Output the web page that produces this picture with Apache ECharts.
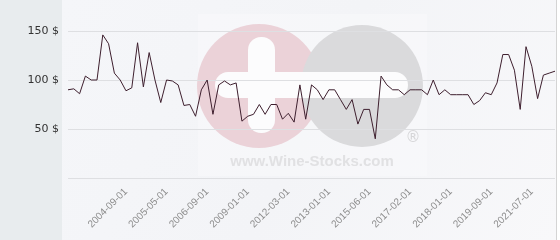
<!DOCTYPE html>
<html>
<head>
<meta charset="utf-8">
<script src="https://cdn.jsdelivr.net/npm/echarts@6/dist/echarts.min.js"></script>
<style>
html,body{margin:0;padding:0;background:#fff;}
#c{width:560px;height:240px;}
</style>
</head>
<body>
<div id="c"></div>
<script>
// Price per point (85 sales, in $)
const prices = [90,91,86,104,100,100,146,137,107,100,
  89,92,138,93,128,100,77,100,99,95,
  74,75,63,90,100,65,95,99,95,97,
  58,63,65,75,65,75,75,60,66,57,
  95,60,95,90,80,90,90,80,70,80,
  55,70,70,40,104,95,90,90,85,90,
  90,90,85,100,85,90,85,85,85,85,
  75,79,87,85,97,126,126,110,70,134,
  114,81,105,107,109];
// Dates shown on the axis and the sale index they belong to
const tickLabels = ['2004-09-01','2005-05-01','2006-09-01','2009-01-01','2012-03-01','2013-01-01','2015-06-01','2017-02-01','2018-01-01','2019-09-01','2021-07-01'];
const tickIndices = [10,17,24,31,38,45,52,59,66,73,80];
const yTicks = [0,50,100,150];

const labelAt = {};
tickIndices.forEach((ix, k) => { labelAt[ix] = tickLabels[k]; });
const categories = prices.map((_, i) => labelAt[i] !== undefined ? labelAt[i] : ('#' + i));

const chart = echarts.init(document.getElementById('c'), null, {renderer: 'canvas'});
chart.setOption({
  animation: false,
  backgroundColor: '#ffffff',
  graphic: [
    {type: 'rect', z: -100, silent: true, shape: {x: 62, y: 0, width: 494, height: 240},
     style: {fill: new echarts.graphic.LinearGradient(0, 0, 1, 1, [
       {offset: 0, color: '#f5f6f9'}, {offset: 0.5, color: '#f3f4f7'}, {offset: 1, color: '#f8f8fa'}])}},
    {type: 'rect', z: -100, silent: true, shape: {x: 0, y: 0, width: 62, height: 240}, style: {fill: '#e8ecee'}},
    {type: 'line', z: -100, silent: true, shape: {x1: 556.5, y1: 0, x2: 556.5, y2: 240}, style: {stroke: '#d4d4d4', lineWidth: 1}},
    {type: 'rect', z: -90, silent: true, shape: {x: 198, y: 14, width: 229, height: 162}, style: {fill: 'rgba(255,255,255,0.25)'}},
    {type: 'circle', z: -80, silent: true, shape: {cx: 259, cy: 86, r: 62}, style: {fill: '#ebd2d8'}},
    {type: 'circle', z: -79, silent: true, shape: {cx: 362, cy: 86, r: 61}, style: {fill: '#dadadc'}},
    {type: 'rect', z: -78, silent: true, shape: {x: 215, y: 72, width: 193, height: 26, r: 13}, style: {fill: '#fcfcfd'}},
    {type: 'rect', z: -78, silent: true, shape: {x: 248, y: 37, width: 27, height: 96, r: 13}, style: {fill: '#fcfcfd'}},
    {type: 'text', z: -78, silent: true, style: {x: 413, y: 138, text: '®', fill: '#d6d6d8', font: '15px "DejaVu Sans"', align: 'center', verticalAlign: 'middle'}},
    {type: 'text', z: -78, silent: true, style: {x: 312, y: 162, text: 'www.Wine-Stocks.com', fill: '#e1e1e3', font: 'bold 15px "Liberation Sans"', align: 'center', verticalAlign: 'middle'}}
  ],
  grid: {left: 68, right: 5, top: 31, bottom: 62, containLabel: false},
  xAxis: {
    type: 'category',
    data: categories,
    boundaryGap: false,
    axisLine: {show: false},
    axisTick: {show: false},
    splitLine: {show: false},
    axisLabel: {
      interval: (i) => labelAt[i] !== undefined,
      formatter: (v, i) => labelAt[i] !== undefined ? labelAt[i] : '',
      rotate: 45,
      margin: 12,
      color: '#8c8c8c',
      fontSize: 10,
      fontFamily: 'Liberation Sans'
    }
  },
  yAxis: {
    type: 'value',
    min: yTicks[0],
    max: yTicks[yTicks.length - 1],
    interval: 50,
    axisLine: {show: false},
    axisTick: {show: false},
    splitLine: {show: true, lineStyle: {color: '#dedfe2', width: 1}},
    axisLabel: {
      formatter: (v) => v === 0 ? '' : v + ' $',
      color: '#333333',
      fontSize: 11,
      fontFamily: 'DejaVu Sans',
      margin: 9
    }
  },
  series: [{
    type: 'line',
    data: prices,
    showSymbol: false,
    symbol: 'none',
    lineStyle: {color: '#3e1f2e', width: 1},
    z: 5
  }]
});
</script>
</body>
</html>
